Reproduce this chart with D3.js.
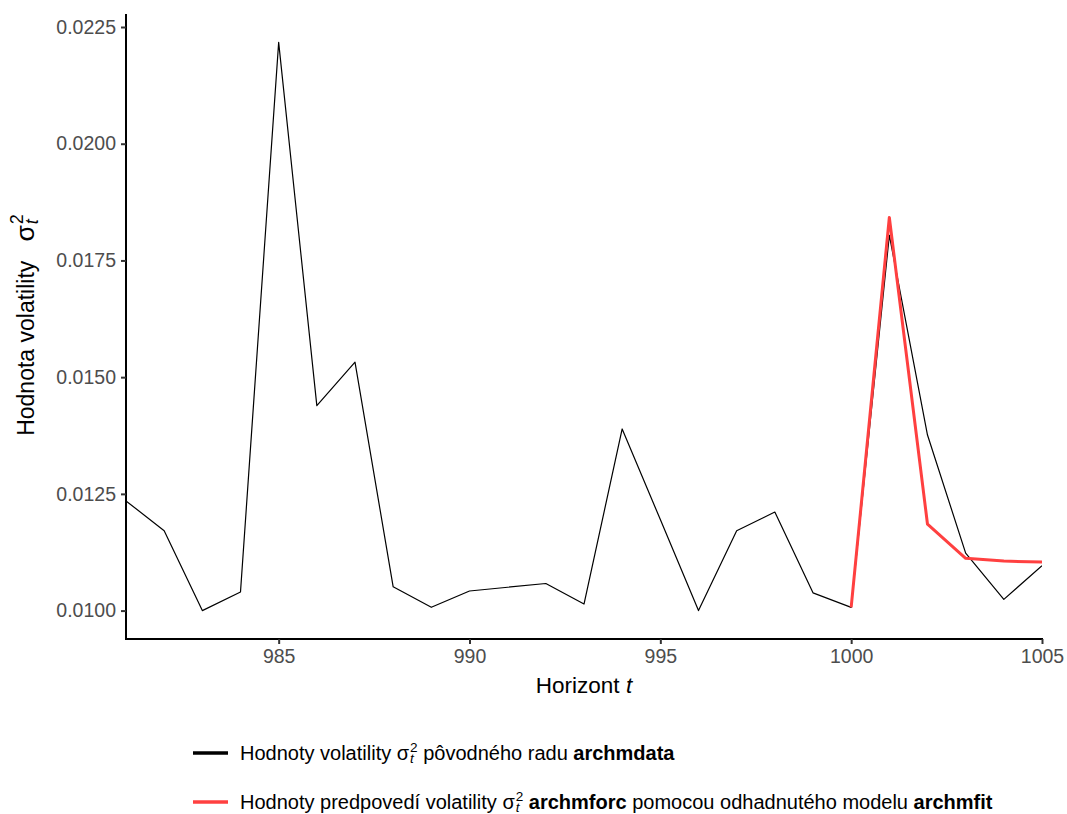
<!DOCTYPE html>
<html>
<head>
<meta charset="utf-8">
<script src="https://cdn.jsdelivr.net/npm/d3@7"></script>
<style>
  html, body { margin: 0; padding: 0; background: #fff; }
  svg { display: block; font-family: "Liberation Sans", Arial, Helvetica, sans-serif; }
</style>
</head>
<body>
<svg id="chart" width="1067" height="814"></svg>
<script>
// Time index of the volatility series
const horizon = [981, 982, 983, 984, 985, 986, 987, 988, 989, 990, 991, 992, 993,
                 994, 995, 996, 997, 998, 999, 1000, 1001, 1002, 1003, 1004, 1005];
// Volatility sigma_t^2 of the original series (archmdata)
const archmdata = [0.01235, 0.01171, 0.01000, 0.01040, 0.02217, 0.01439, 0.01532,
                   0.01051, 0.01007, 0.01042, 0.01050, 0.01058, 0.01014, 0.01389,
                   0.01195, 0.01000, 0.01171, 0.01211, 0.01038, 0.01007, 0.01804,
                   0.01376, 0.01123, 0.01024, 0.01096];
// Forecast horizon and forecast volatility (archmforc from archmfit)
const forecastHorizon = [1000, 1001, 1002, 1003, 1004, 1005];
const archmforc = [0.01007, 0.01842, 0.01185, 0.01112, 0.01106, 0.01104];
// Axis ticks
const xTicks = [985, 990, 995, 1000, 1005];
const yTicks = [0.0100, 0.0125, 0.0150, 0.0175, 0.0200, 0.0225];

const svg = d3.select("#chart");
const panel = { left: 126, right: 1042, top: 14, bottom: 639 };

const x = d3.scaleLinear().domain([981, 1005]).range([panel.left, panel.right]);
const all = archmdata.concat(archmforc);
const [lo, hi] = d3.extent(all);
const pad = (hi - lo) * 0.05;
const y = d3.scaleLinear().domain([lo - pad, hi + pad]).range([panel.bottom, panel.top]);

const ink = "#000000";
const red = "#FF4040";
const tickGrey = "#4D4D4D";

// clip so the lines stay within the panel
svg.append("defs").append("clipPath").attr("id", "panelClip")
  .append("rect").attr("x", panel.left).attr("y", panel.top)
  .attr("width", panel.right - panel.left).attr("height", panel.bottom - panel.top);

const line = d3.line().x(d => x(d[0])).y(d => y(d[1]));

const plot = svg.append("g").attr("clip-path", "url(#panelClip)");
plot.append("path")
  .datum(d3.zip(horizon, archmdata))
  .attr("d", line).attr("fill", "none")
  .attr("stroke", ink).attr("stroke-width", 1.2).attr("stroke-linejoin", "round");
plot.append("path")
  .datum(d3.zip(forecastHorizon, archmforc))
  .attr("d", line).attr("fill", "none")
  .attr("stroke", red).attr("stroke-width", 3).attr("stroke-linejoin", "round");

// axes
const xAxis = d3.axisBottom(x).tickValues(xTicks).tickFormat(d3.format("d"))
  .tickSizeInner(5).tickSizeOuter(0).tickPadding(5);
const yAxis = d3.axisLeft(y).tickValues(yTicks).tickFormat(d3.format(".4f"))
  .tickSizeInner(5).tickSizeOuter(0).tickPadding(5);

function styleAxis(g) {
  g.select(".domain").attr("stroke", ink).attr("stroke-width", 2);
  g.selectAll(".tick line").attr("stroke", "#333333").attr("stroke-width", 2);
  g.selectAll(".tick text").attr("fill", tickGrey)
    .style("font-size", "19.5px").style("font-family", "Liberation Sans, Arial, sans-serif");
}
svg.append("g").attr("transform", `translate(0,${panel.bottom})`).call(xAxis).call(styleAxis)
  .call(g => g.select(".domain").attr("d", `M${panel.left - 1},0H${panel.right + 1}`));
svg.append("g").attr("transform", `translate(${panel.left},0)`).call(yAxis).call(styleAxis)
  .call(g => g.select(".domain").attr("d", `M0,${panel.top}V${panel.bottom + 1}`));

// rich text: sequence of plain runs and a sigma with stacked ^2 and _t
function richText(parent, xPos, yPos, parts, size) {
  const g = parent.append("g").attr("transform", `translate(${xPos},${yPos})`);
  let cx = 0;
  parts.forEach(p => {
    if (p.sigma) {
      const sz = size * (p.scale || 1);
      const small = sz * 0.68;
      const st = g.append("text").attr("x", cx).attr("y", 0).style("font-size", sz + "px");
      const s = st.append("tspan").text("σ");
      const sw = s.node().getComputedTextLength() + 1;
      const sup = st.append("tspan").attr("x", cx + sw).attr("y", -sz * 0.42)
        .style("font-size", small + "px").text("2");
      const sub = st.append("tspan").attr("x", cx + sw).attr("y", sz * 0.16)
        .style("font-size", small + "px").style("font-style", "italic").text("t");
      cx += sw + Math.max(sup.node().getComputedTextLength(), sub.node().getComputedTextLength());
    } else {
      const t = g.append("text").attr("x", cx).attr("y", 0)
        .style("font-size", size + "px")
        .style("font-weight", p.bold ? "bold" : "normal")
        .style("font-style", p.italic ? "italic" : "normal")
        .style("white-space", "pre")
        .text(p.t);
      cx += t.node().getComputedTextLength();
    }
  });
  g.selectAll("text").attr("fill", "#000");
  return { g, width: cx };
}

// x axis title
const xt = richText(svg, 0, 693, [{ t: "Horizont " }, { t: "t", italic: true }], 22.5);
xt.g.attr("transform", `translate(${(panel.left + panel.right) / 2 - xt.width / 2},693)`);

// y axis title (rotated)
const yt = richText(svg, 0, 0, [{ t: "Hodnota volatility   " }, { sigma: true, scale: 1.15 }], 23);
yt.g.attr("transform", `translate(34,${325 + yt.width / 2}) rotate(-90)`);

// legend
const legendRows = [
  { color: ink, y: 753, parts: [{ t: "Hodnoty volatility " }, { sigma: true },
      { t: " pôvodného radu " }, { t: "archmdata", bold: true }] },
  { color: red, y: 802, parts: [{ t: "Hodnoty predpovedí volatility " }, { sigma: true },
      { t: " " }, { t: "archmforc", bold: true }, { t: " pomocou odhadnutého modelu " },
      { t: "archmfit", bold: true }] }
];
legendRows.forEach(r => {
  svg.append("line").attr("x1", 193).attr("x2", 228).attr("y1", r.y).attr("y2", r.y)
    .attr("stroke", r.color).attr("stroke-width", 3.5);
  richText(svg, 240, r.y + 7, r.parts, 20);
});
</script>
</body>
</html>
